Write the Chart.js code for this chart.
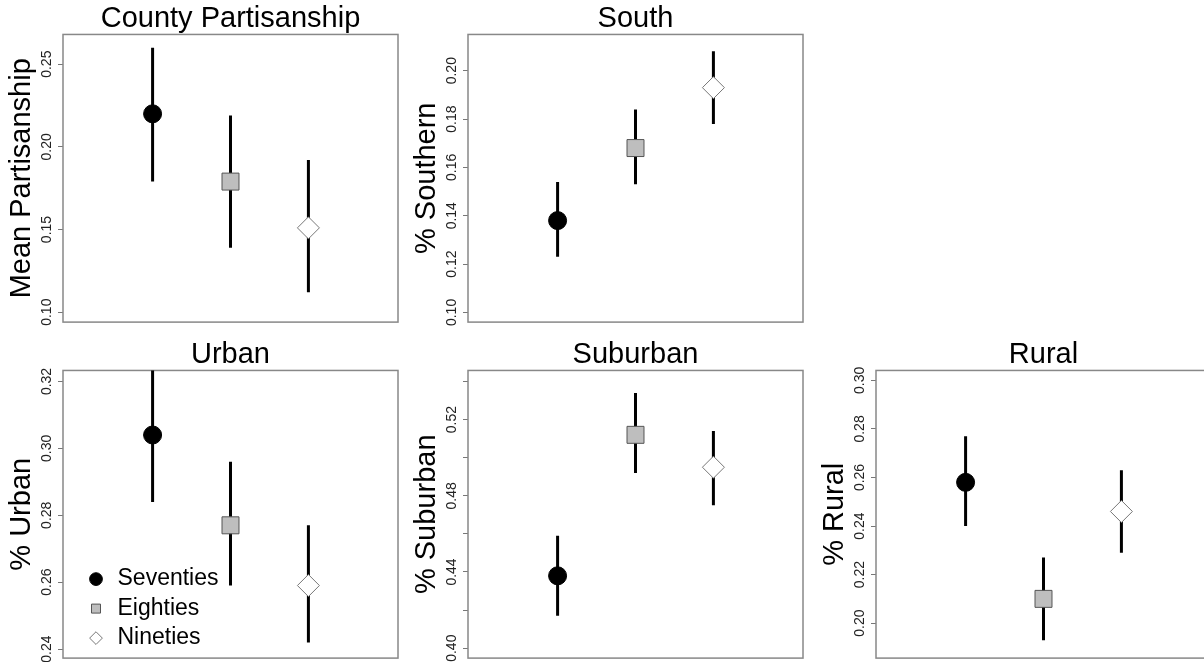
<!DOCTYPE html>
<html>
<head>
<meta charset="utf-8">
<script src="https://cdn.jsdelivr.net/npm/chart.js@4.4.1/dist/chart.umd.min.js"></script>
<style>
html, body { margin: 0; padding: 0; background: #fff; overflow: hidden; }
body { width: 1204px; height: 662px; position: relative; }
canvas { position: absolute; }
</style>
</head>
<body>
<canvas id="c0"></canvas>
<canvas id="c1"></canvas>
<canvas id="c2"></canvas>
<canvas id="c3"></canvas>
<canvas id="c4"></canvas>
<script>
"use strict";
const eras = ["Seventies", "Eighties", "Nineties"];
const eraX = [1, 2, 3];

const titles = ["County Partisanship", "South", "Urban", "Suburban", "Rural"];
const yTitles = ["Mean Partisanship", "% Southern", "% Urban", "% Suburban", "% Rural"];

const partisanMean = [0.220, 0.179, 0.151];
const partisanLow = [0.179, 0.139, 0.112];
const partisanHigh = [0.260, 0.219, 0.192];

const southMean = [0.138, 0.168, 0.193];
const southLow = [0.123, 0.153, 0.178];
const southHigh = [0.154, 0.184, 0.208];

const urbanMean = [0.304, 0.277, 0.259];
const urbanLow = [0.284, 0.259, 0.242];
const urbanHigh = [0.324, 0.296, 0.277];

const suburbanMean = [0.438, 0.512, 0.495];
const suburbanLow = [0.417, 0.492, 0.475];
const suburbanHigh = [0.459, 0.534, 0.514];

const ruralMean = [0.258, 0.210, 0.246];
const ruralLow = [0.240, 0.193, 0.229];
const ruralHigh = [0.277, 0.227, 0.263];

// y axis range and tick step per panel
const yMin = [0.094, 0.096, 0.2373, 0.3948, 0.1856];
const yMax = [0.268, 0.215, 0.3233, 0.5458, 0.3041];
const yStep = [0.05, 0.02, 0.02, 0.02, 0.02];

const series = [
    [partisanMean, partisanLow, partisanHigh],
    [southMean, southLow, southHigh],
    [urbanMean, urbanLow, urbanHigh],
    [suburbanMean, suburbanLow, suburbanHigh],
    [ruralMean, ruralLow, ruralHigh]
];

const boxes = [
    { left: 0, top: 0 }, { left: 405, top: 0 },
    { left: 0, top: 336 }, { left: 405, top: 336 }, { left: 813, top: 336 }
];

const markers = [
    { pointStyle: "circle", radius: 9, backgroundColor: "#000", borderColor: "#000", borderWidth: 1 },
    { pointStyle: "rect", radius: 12, backgroundColor: "#bebebe", borderColor: "#555", borderWidth: 1 },
    { pointStyle: "rectRot", radius: 11, backgroundColor: "#fff", borderColor: "#777", borderWidth: 1 }
];

Chart.defaults.font.family = "'Liberation Sans', Arial, sans-serif";
Chart.defaults.color = "#000";

const frame = {
    id: "frame",
    beforeDatasetsDraw(c)
    {
        const { ctx, chartArea: a } = c;
        ctx.save();
        ctx.strokeStyle = "#888";
        ctx.lineWidth = 1.5;
        ctx.strokeRect(a.left, a.top, a.right - a.left, a.bottom - a.top);
        ctx.restore();
    }
};

// keep the legend inside the plot, bottom-left
const legendPlace = {
    id: "legendPlace",
    afterLayout(c)
    {
        const l = c.legend, a = c.chartArea;
        if (!l || !l.options.display) return;
        l.left = a.left + 16.5;
        l.top = a.top;
        l.bottom = a.bottom - 2;
    }
};

const tickLabel = (p, v) =>
    p === 3 ? (Math.round(v * 100) % 4 === 0 ? v.toFixed(2) : "") : v.toFixed(2);

series.forEach(([mean, low, high], p) =>
{
    const cv = document.getElementById("c" + p);
    cv.width = 401; cv.height = 328;
    cv.style.left = boxes[p].left + "px";
    cv.style.top = boxes[p].top + "px";

    const pointSets = eras.map((e, i) => ({
        label: e,
        data: [{ x: eraX[i], y: mean[i] }],
        pointStyle: markers[i].pointStyle,
        pointRadius: markers[i].radius,
        pointBackgroundColor: markers[i].backgroundColor,
        pointBorderColor: markers[i].borderColor,
        pointBorderWidth: markers[i].borderWidth,
        backgroundColor: markers[i].backgroundColor,
        borderColor: markers[i].borderColor,
        borderWidth: markers[i].borderWidth,
        order: 0
    }));
    const barSets = eras.map((e, i) => ({
        type: "line",
        label: e + " interval",
        data: [{ x: eraX[i], y: low[i] }, { x: eraX[i], y: high[i] }],
        showLine: true,
        borderColor: "#000",
        borderWidth: 3,
        pointRadius: 0,
        order: 1
    }));

    new Chart(cv, {
        type: "scatter",
        data: { datasets: [...pointSets, ...barSets] },
        options: {
            responsive: false,
            animation: false,
            layout: { autoPadding: false, padding: { left: 0, right: 3, top: 0, bottom: 2 } },
            scales: {
                x: { type: "linear", min: -0.15, max: 4.15, display: false },
                y: {
                    type: "linear",
                    min: yMin[p],
                    max: yMax[p],
                    afterFit: s => { s.width = 63; },
                    border: { display: false },
                    grid: { drawOnChartArea: false, drawTicks: true, tickLength: 5, color: "#777" },
                    ticks: {
                        stepSize: yStep[p],
                        includeBounds: false,
                        autoSkip: false,
                        minRotation: 90,
                        maxRotation: 90,
                        crossAlign: "center",
                        padding: -2.5,
                        color: "#222",
                        font: { size: 14 },
                        callback: v => tickLabel(p, v)
                    },
                    title: {
                        display: true,
                        text: yTitles[p],
                        color: "#000",
                        font: { size: 29, lineHeight: 1.2 },
                        padding: { top: 5, bottom: 0 }
                    }
                }
            },
            plugins: {
                title: {
                    display: true,
                    text: titles[p],
                    fullSize: false,
                    color: "#000",
                    font: { size: 29, weight: "normal", lineHeight: 1.05 },
                    padding: { top: 4, bottom: 0 }
                },
                legend: {
                    display: p === 2,
                    position: "chartArea",
                    align: "end",
                    labels: {
                        usePointStyle: true,
                        boxWidth: 20,
                        boxHeight: 9,
                        padding: 6.5,
                        color: "#000",
                        font: { size: 23 },
                        filter: item => item.datasetIndex < 3
                    }
                },
                tooltip: { enabled: false }
            }
        },
        plugins: [frame, legendPlace]
    });
});
</script>
</body>
</html>
